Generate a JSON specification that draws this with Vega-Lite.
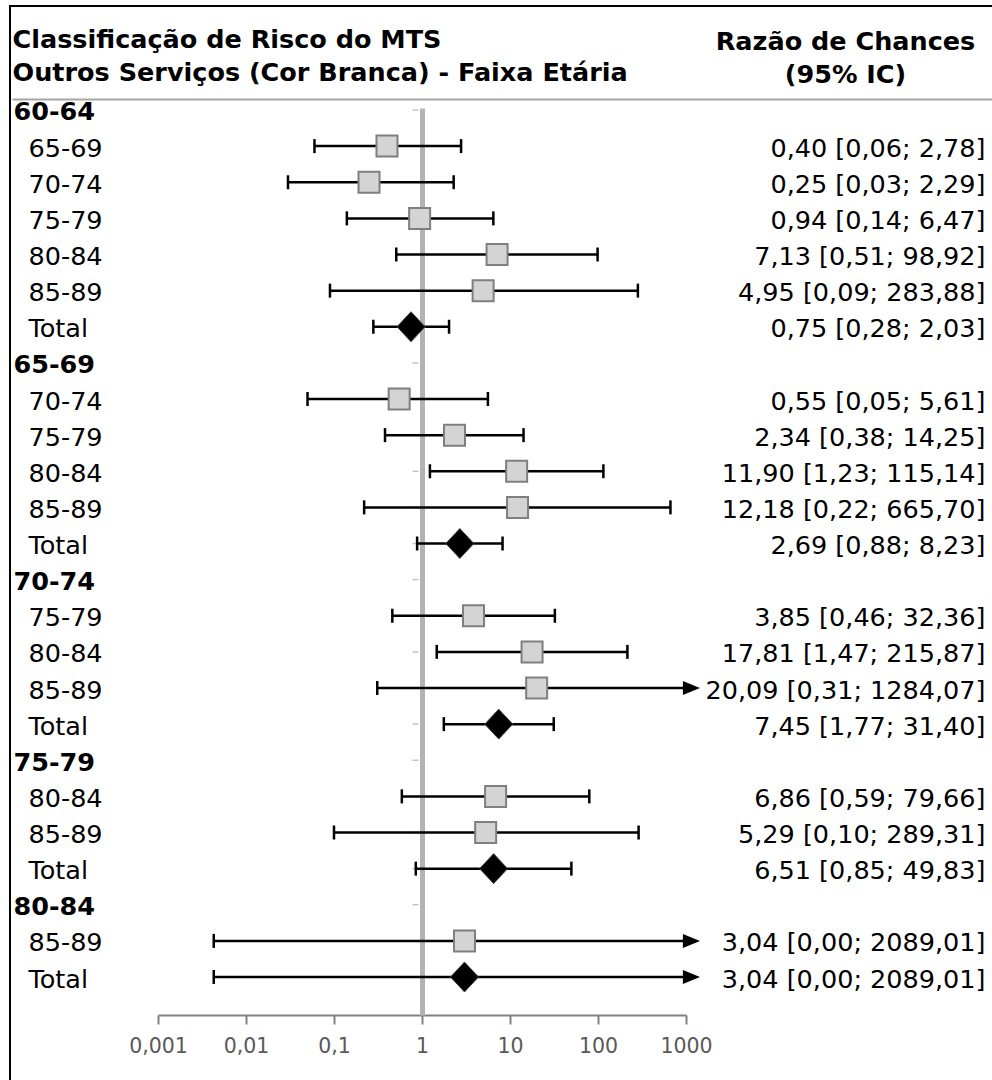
{
  "$schema": "https://vega.github.io/schema/vega-lite/v6.json",
  "width": 982,
  "height": 1074,
  "autosize": {"type": "none"},
  "padding": {"left": 10, "top": 6, "right": 0, "bottom": 0},
  "background": "#ffffff",
  "config": {
    "font": "DejaVu Sans",
    "view": {"stroke": "#000000", "strokeWidth": 2, "strokeDash": [982, 2056, 1074]}
  },
  "data": {
    "values": [
      {"faixa": "60-64", "tipo": "H"},
      {"faixa": "65-69", "tipo": "S", "rc": 0.40, "li": 0.06, "ls": 2.78},
      {"faixa": "70-74", "tipo": "S", "rc": 0.25, "li": 0.03, "ls": 2.29},
      {"faixa": "75-79", "tipo": "S", "rc": 0.94, "li": 0.14, "ls": 6.47},
      {"faixa": "80-84", "tipo": "S", "rc": 7.13, "li": 0.51, "ls": 98.92},
      {"faixa": "85-89", "tipo": "S", "rc": 4.95, "li": 0.09, "ls": 283.88},
      {"faixa": "Total", "tipo": "T", "rc": 0.75, "li": 0.28, "ls": 2.03},
      {"faixa": "65-69", "tipo": "H"},
      {"faixa": "70-74", "tipo": "S", "rc": 0.55, "li": 0.05, "ls": 5.61},
      {"faixa": "75-79", "tipo": "S", "rc": 2.34, "li": 0.38, "ls": 14.25},
      {"faixa": "80-84", "tipo": "S", "rc": 11.90, "li": 1.23, "ls": 115.14},
      {"faixa": "85-89", "tipo": "S", "rc": 12.18, "li": 0.22, "ls": 665.70},
      {"faixa": "Total", "tipo": "T", "rc": 2.69, "li": 0.88, "ls": 8.23},
      {"faixa": "70-74", "tipo": "H"},
      {"faixa": "75-79", "tipo": "S", "rc": 3.85, "li": 0.46, "ls": 32.36},
      {"faixa": "80-84", "tipo": "S", "rc": 17.81, "li": 1.47, "ls": 215.87},
      {"faixa": "85-89", "tipo": "S", "rc": 20.09, "li": 0.31, "ls": 1284.07},
      {"faixa": "Total", "tipo": "T", "rc": 7.45, "li": 1.77, "ls": 31.40},
      {"faixa": "75-79", "tipo": "H"},
      {"faixa": "80-84", "tipo": "S", "rc": 6.86, "li": 0.59, "ls": 79.66},
      {"faixa": "85-89", "tipo": "S", "rc": 5.29, "li": 0.10, "ls": 289.31},
      {"faixa": "Total", "tipo": "T", "rc": 6.51, "li": 0.85, "ls": 49.83},
      {"faixa": "80-84", "tipo": "H"},
      {"faixa": "85-89", "tipo": "S", "rc": 3.04, "li": 0.0043, "ls": 2089.01},
      {"faixa": "Total", "tipo": "T", "rc": 3.04, "li": 0.0043, "ls": 2089.01}
    ]
  },
  "transform": [
    {"window": [{"op": "row_number", "as": "n"}]},
    {"calculate": "datum.tipo == 'H' ? '' : replace(format(datum.rc, '.2f'), '.', ',') + ' [' + replace(format(datum.li, '.2f'), '.', ',') + '; ' + replace(format(datum.ls, '.2f'), '.', ',') + ']'", "as": "ic"},
    {"calculate": "(datum.n < 10 ? '0' : '') + datum.n + '|' + datum.tipo + '|' + datum.faixa + '|' + datum.ic", "as": "chave"},
    {"calculate": "datum.tipo == 'H' ? null : min(datum.ls, 1000)", "as": "lsPlot"}
  ],
  "resolve": {"axis": {"x": "independent", "y": "independent"}},
  "layer": [
    {
      "mark": {"type": "tick", "orient": "horizontal", "size": 6, "thickness": 1.5, "color": "#c4c4c4", "opacity": 1, "xOffset": -6.5},
      "encoding": {
        "x": {"datum": 1, "axis": null},
        "y": {
          "field": "chave",
          "type": "nominal",
          "sort": "ascending",
          "scale": {"type": "point", "range": [102, 1009], "padding": 0.5536, "align": 0.05},
          "axis": {
            "orient": "left",
            "domain": false,
            "ticks": false,
            "grid": false,
            "labelExpr": "split(datum.value, '|')[2]",
            "labelAlign": "left",
            "labelBaseline": "middle",
            "labelOffset": 2,
            "labelPadding": {"condition": {"test": "indexof(datum.value, '|H|') > 0", "value": -3}, "value": -18},
            "labelFontWeight": {"condition": {"test": "indexof(datum.value, '|H|') > 0", "value": "bold"}, "value": "normal"},
            "labelFont": "DejaVu Sans",
            "labelFontSize": 25.5,
            "labelColor": "#000000",
            "labelLimit": 0,
            "labelOverlap": false,
            "title": ["Classificação de Risco do MTS", "Outros Serviços (Cor Branca) - Faixa Etária"],
            "titleAngle": 0,
            "titleAlign": "left",
            "titleBaseline": "alphabetic",
            "titleX": 2,
            "titleY": 41,
            "titleFont": "DejaVu Sans",
            "titleFontSize": 25.5,
            "titleFontWeight": "bold",
            "titleColor": "#000000",
            "titleLineHeight": 33,
            "titleLimit": 2000
          }
        }
      }
    },
    {
      "transform": [{"filter": "datum.tipo != 'H'"}],
      "mark": {"type": "rule", "color": "#000000", "strokeWidth": 2.5},
      "encoding": {
        "x": {
          "field": "li",
          "type": "quantitative",
          "scale": {"type": "log", "domain": [0.001, 1000], "range": [148, 676], "nice": false},
          "axis": {
            "orient": "bottom",
            "offset": -65,
            "values": [0.001, 0.01, 0.1, 1, 10, 100, 1000],
            "labelExpr": "replace(toString(datum.value), '.', ',')",
            "domainColor": "#808080",
            "domainWidth": 2,
            "tickColor": "#808080",
            "tickWidth": 2,
            "tickSize": 9,
            "labelFont": "DejaVu Sans",
            "labelFontSize": 20.5,
            "labelColor": "#595959",
            "labelPadding": 12,
            "labelOverlap": false,
            "labelFlush": false,
            "grid": false,
            "title": null
          }
        },
        "x2": {"field": "lsPlot"},
        "y": {
          "field": "chave",
          "type": "nominal",
          "sort": "ascending",
          "axis": {"orient": "left", "offset": -412, "domain": true, "domainColor": "#b3b3b3", "domainWidth": 5, "ticks": false, "labels": false, "grid": false, "title": null}
        }
      }
    },
    {
      "transform": [{"filter": "datum.tipo != 'H'"}],
      "mark": {"type": "tick", "orient": "vertical", "size": 14, "thickness": 2.5, "color": "#000000", "opacity": 1},
      "encoding": {
        "x": {"field": "li", "type": "quantitative", "axis": null},
        "y": {
          "field": "chave",
          "type": "nominal",
          "sort": "ascending",
          "axis": {
            "orient": "right",
            "domain": false,
            "ticks": false,
            "grid": false,
            "labelExpr": "split(datum.value, '|')[3]",
            "labelAlign": "right",
            "labelBaseline": "middle",
            "labelOffset": 2,
            "labelPadding": -7,
            "labelFont": "DejaVu Sans",
            "labelFontSize": 25.5,
            "labelColor": "#000000",
            "labelLimit": 0,
            "labelOverlap": false,
            "title": ["Razão de Chances", "(95% IC)"],
            "titleAngle": 0,
            "titleAlign": "center",
            "titleBaseline": "alphabetic",
            "titleX": -147,
            "titleY": 43,
            "titleFont": "DejaVu Sans",
            "titleFontSize": 25.5,
            "titleFontWeight": "bold",
            "titleColor": "#000000",
            "titleLineHeight": 33,
            "titleLimit": 2000
          }
        }
      }
    },
    {
      "transform": [{"filter": "datum.tipo != 'H' && datum.ls <= 1000"}],
      "mark": {"type": "tick", "orient": "vertical", "size": 14, "thickness": 2.5, "color": "#000000", "opacity": 1},
      "encoding": {
        "x": {"field": "ls", "type": "quantitative", "axis": null},
        "y": {
          "field": "chave",
          "type": "nominal",
          "sort": "ascending",
          "axis": {
            "orient": "left",
            "offset": -982,
            "labels": false,
            "domain": false,
            "grid": false,
            "ticks": true,
            "tickSize": 980,
            "tickColor": "#a6a6a6",
            "tickWidth": 2,
            "tickOpacity": {"condition": {"test": "indexof(datum.value, '01|') == 0", "value": 1}, "value": 0},
            "tickOffset": -11,
            "title": null
          }
        }
      }
    },
    {
      "transform": [{"filter": "datum.tipo == 'S'"}],
      "mark": {"type": "point", "shape": "square", "filled": true, "size": 441, "fill": "#d4d4d4", "stroke": "#7f7f7f", "strokeWidth": 2, "opacity": 1},
      "encoding": {
        "x": {"field": "rc", "type": "quantitative", "axis": null},
        "y": {"field": "chave", "type": "nominal", "sort": "ascending", "axis": null}
      }
    },
    {
      "transform": [{"filter": "datum.tipo == 'T'"}],
      "mark": {"type": "point", "shape": "M-1,0L0,-1.07L1,0L0,1.07Z", "filled": true, "size": 784, "fill": "#000000", "stroke": "#404040", "strokeWidth": 1, "opacity": 1},
      "encoding": {
        "x": {"field": "rc", "type": "quantitative", "axis": null},
        "y": {"field": "chave", "type": "nominal", "sort": "ascending", "axis": null}
      }
    },
    {
      "transform": [{"filter": "datum.tipo != 'H' && datum.ls > 1000"}],
      "mark": {"type": "point", "shape": "M-0.45,-1L2,0L-0.45,1Z", "filled": true, "size": 196, "fill": "#000000", "strokeWidth": 0, "opacity": 1},
      "encoding": {
        "x": {"field": "lsPlot", "type": "quantitative", "axis": null},
        "y": {"field": "chave", "type": "nominal", "sort": "ascending", "axis": null}
      }
    }
  ]
}
